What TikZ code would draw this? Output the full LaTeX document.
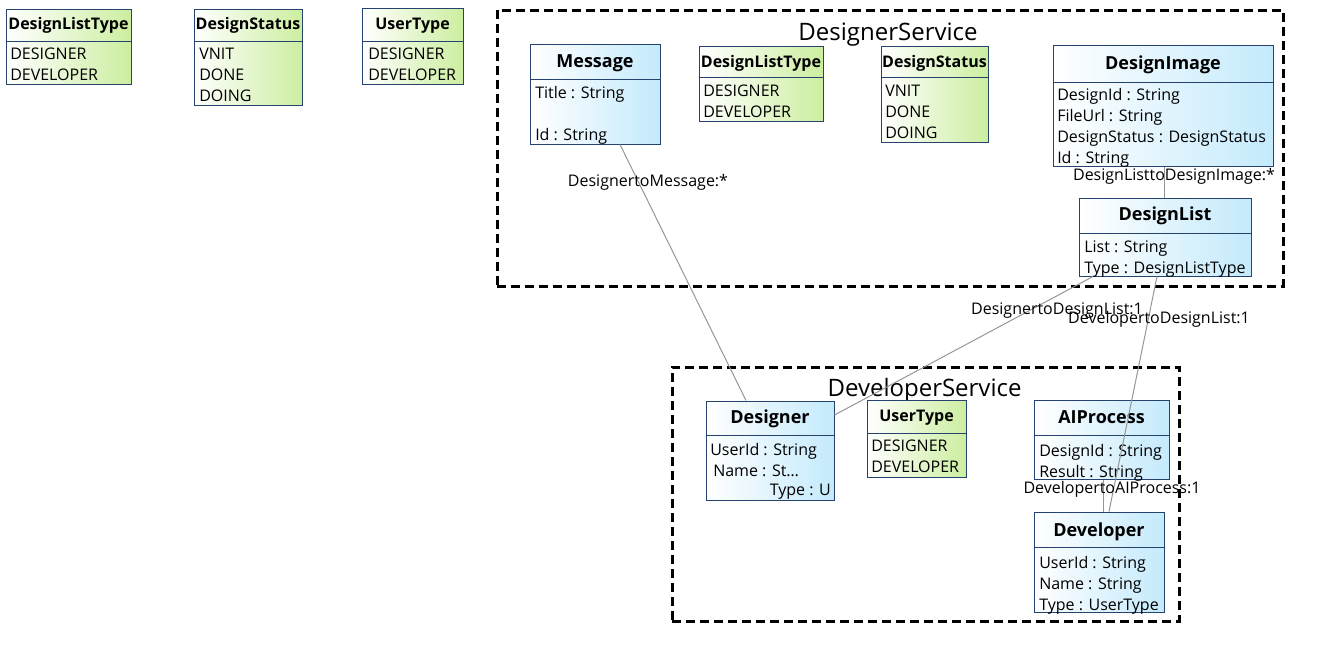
\documentclass[tikz,border=0pt]{standalone}
\usepackage{fontspec}
\setmainfont{Open Sans}
\usetikzlibrary{fit,shadows}

\definecolor{umlline}{RGB}{38,66,110}
\definecolor{clsblue}{RGB}{196,234,252}
\definecolor{enumgreen}{RGB}{204,238,160}
\definecolor{connline}{RGB}{150,150,150}

\begin{document}
\begin{tikzpicture}[x=0.75pt,y=-0.75pt,
    cls/.style={draw=umlline, line width=0.75pt, left color=white, right color=clsblue, inner sep=0pt,
      drop shadow={shadow xshift=1pt, shadow yshift=-1pt, fill=black!40, opacity=0.5}},
    enm/.style={cls, right color=enumgreen},
    sepline/.style={draw=umlline, line width=0.75pt},
    clstitle/.style={anchor=base, inner sep=0pt, font=\fontsize{13.5}{16}\selectfont\bfseries},
    enmtitle/.style={anchor=base, inner sep=0pt, font=\fontsize{12}{15}\selectfont\bfseries},
    items/.style={anchor=north west, yshift=-3pt, align=left, inner sep=0pt, font=\fontsize{12}{15.75}\selectfont, execute at begin node=\strut},
    svc/.style={draw=black, line width=2.25pt, dash pattern=on 7pt off 3.5pt, inner sep=0pt},
    svctitle/.style={anchor=base, inner sep=0pt, font=\fontsize{18}{22}\selectfont},
    conn/.style={draw=connline, line width=0.75pt},
    connlabel/.style={anchor=base, inner sep=0pt, font=\fontsize{12}{15}\selectfont}]
  \useasboundingbox (0,0) rectangle (1321,664);

  % enums outside the services
  \node[enm, fit={(6,9) (131,84)}] (dlt0) {};
  \draw[sepline] (dlt0.west |- 0,41) -- (dlt0.east |- 0,41);
  \node[enmtitle] at (dlt0.north |- 0,29.7) {DesignListType};
  \node[items] at (10,44) {DESIGNER\\DEVELOPER};

  \node[enm, fit={(194,9) (302,105)}] (ds0) {};
  \draw[sepline] (ds0.west |- 0,41) -- (ds0.east |- 0,41);
  \node[enmtitle] at (ds0.north |- 0,29.7) {DesignStatus};
  \node[items] at (199,44) {VNIT\\DONE\\DOING};

  \node[enm, fit={(362,8) (463,84)}] (ut0) {};
  \draw[sepline] (ut0.west |- 0,41) -- (ut0.east |- 0,41);
  \node[enmtitle] at (ut0.north |- 0,29.7) {UserType};
  \node[items] at (368,44) {DESIGNER\\DEVELOPER};

  % DesignerService
  \node[svc, fit={(497,10) (1283,286)}] (designersvc) {};
  \node[svctitle] at (888,40.6) {DesignerService};

  \node[cls, fit={(530,44) (660,144)}] (message) {};
  \draw[sepline] (message.west |- 0,79) -- (message.east |- 0,79);
  \node[clstitle] at (message.north |- 0,67.4) {Message};
  \node[items] at (535,82) {Title : String\\\strut\\Id : String};

  \node[enm, fit={(699,46) (823,121)}] (dlt1) {};
  \draw[sepline] (dlt1.west |- 0,77) -- (dlt1.east |- 0,77);
  \node[enmtitle] at (dlt1.north |- 0,67.7) {DesignListType};
  \node[items] at (703,81) {DESIGNER\\DEVELOPER};

  \node[enm, fit={(881,46) (988,142)}] (ds1) {};
  \draw[sepline] (ds1.west |- 0,77) -- (ds1.east |- 0,77);
  \node[enmtitle] at (ds1.north |- 0,67.7) {DesignStatus};
  \node[items] at (885,81) {VNIT\\DONE\\DOING};

  \node[cls, fit={(1053,45) (1273,166)}] (designimage) {};
  \draw[sepline] (designimage.west |- 0,82) -- (designimage.east |- 0,82);
  \node[clstitle] at (designimage.north |- 0,69.4) {DesignImage};
  \node[items] at (1057,84) {DesignId : String\\FileUrl : String\\DesignStatus : DesignStatus\\Id : String};

  \node[cls, fit={(1079,198) (1251,276)}] (designlist) {};
  \draw[sepline] (designlist.west |- 0,233) -- (designlist.east |- 0,233);
  \node[clstitle] at (designlist.north |- 0,220.4) {DesignList};
  \node[items] at (1084,236) {List : String\\Type : DesignListType};

  % DeveloperService
  \node[svc, fit={(672,367) (1179,621)}] (developersvc) {};
  \node[svctitle] at (924.5,396.6) {DeveloperService};

  \node[cls, fit={(706,401) (834,500)}] (designer) {};
  \draw[sepline] (designer.west |- 0,435) -- (designer.east |- 0,435);
  \node[clstitle] at (designer.north |- 0,423.4) {Designer};
  \node[items] at (710,439) {UserId : String\\\hspace*{2.25pt}Name : St…};
  \node[connlabel, anchor=base east] at (831,495.7) {Type : U};

  \node[enm, fit={(867,400) (966,477)}] (ut1) {};
  \draw[sepline] (ut1.west |- 0,433) -- (ut1.east |- 0,433);
  \node[enmtitle] at (ut1.north |- 0,421.7) {UserType};
  \node[items] at (871,436) {DESIGNER\\DEVELOPER};

  \node[cls, fit={(1034,400) (1169,479)}] (aiprocess) {};
  \draw[sepline] (aiprocess.west |- 0,435) -- (aiprocess.east |- 0,435);
  \node[clstitle] at (aiprocess.north |- 0,423.4) {AIProcess};
  \node[items] at (1039,440) {DesignId : String\\Result : String};

  \node[cls, fit={(1034,512) (1164,612)}] (developer) {};
  \draw[sepline] (developer.west |- 0,547) -- (developer.east |- 0,547);
  \node[clstitle] at (developer.north |- 0,536.4) {Developer};
  \node[items] at (1039,552) {UserId : String\\Name : String\\Type : UserType};

  % associations
  \draw[conn] (620,0 |- message.south) -- (746,0 |- designer.north);
  \draw[conn] (1164,0 |- designimage.south) -- (1164,0 |- designlist.north);
  \draw[conn] (1093,0 |- designlist.south) -- (designer.east |- 0,415);
  \draw[conn] (1157,0 |- designlist.south) -- (1109,0 |- developer.north);
  \draw[conn] (1103,0 |- aiprocess.south) -- (1103,0 |- developer.north);

  \node[connlabel] at (648,186) {DesignertoMessage:*};
  \node[connlabel] at (1174,180) {DesignListtoDesignImage:*};
  \node[connlabel] at (1057,314) {DesignertoDesignList:1};
  \node[connlabel] at (1159,323) {DevelopertoDesignList:1};
  \node[connlabel] at (1112,493) {DevelopertoAIProcess:1};
\end{tikzpicture}
\end{document}
